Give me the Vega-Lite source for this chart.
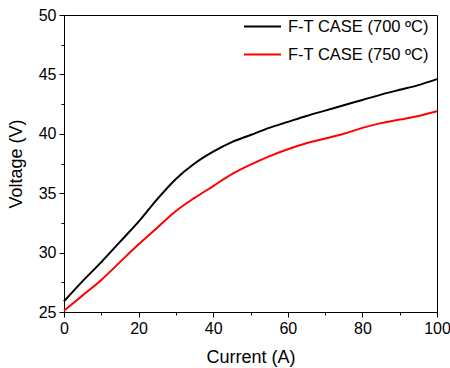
{
  "$schema": "https://vega.github.io/schema/vega-lite/v6.json",
  "autosize": "none",
  "width": 373,
  "height": 297,
  "padding": {"left": 64, "top": 15, "right": 13, "bottom": 56},
  "background": "white",
  "config": {
    "view": {"stroke": "#000000", "strokeWidth": 1},
    "font": "Liberation Sans"
  },
  "data": {
    "values": [
      {"I": 0, "V": 25.9, "s": "F-T CASE (700 ºC)"},
      {"I": 5, "V": 27.6, "s": "F-T CASE (700 ºC)"},
      {"I": 10, "V": 29.2, "s": "F-T CASE (700 ºC)"},
      {"I": 15, "V": 30.9, "s": "F-T CASE (700 ºC)"},
      {"I": 20, "V": 32.6, "s": "F-T CASE (700 ºC)"},
      {"I": 25, "V": 34.5, "s": "F-T CASE (700 ºC)"},
      {"I": 30, "V": 36.2, "s": "F-T CASE (700 ºC)"},
      {"I": 35, "V": 37.5, "s": "F-T CASE (700 ºC)"},
      {"I": 40, "V": 38.5, "s": "F-T CASE (700 ºC)"},
      {"I": 45, "V": 39.3, "s": "F-T CASE (700 ºC)"},
      {"I": 50, "V": 39.9, "s": "F-T CASE (700 ºC)"},
      {"I": 55, "V": 40.5, "s": "F-T CASE (700 ºC)"},
      {"I": 60, "V": 41.0, "s": "F-T CASE (700 ºC)"},
      {"I": 65, "V": 41.5, "s": "F-T CASE (700 ºC)"},
      {"I": 70, "V": 41.95, "s": "F-T CASE (700 ºC)"},
      {"I": 75, "V": 42.4, "s": "F-T CASE (700 ºC)"},
      {"I": 80, "V": 42.85, "s": "F-T CASE (700 ºC)"},
      {"I": 85, "V": 43.3, "s": "F-T CASE (700 ºC)"},
      {"I": 90, "V": 43.7, "s": "F-T CASE (700 ºC)"},
      {"I": 95, "V": 44.1, "s": "F-T CASE (700 ºC)"},
      {"I": 100, "V": 44.6, "s": "F-T CASE (700 ºC)"},
      {"I": 0, "V": 25.1, "s": "F-T CASE (750 ºC)"},
      {"I": 5, "V": 26.4, "s": "F-T CASE (750 ºC)"},
      {"I": 10, "V": 27.7, "s": "F-T CASE (750 ºC)"},
      {"I": 15, "V": 29.2, "s": "F-T CASE (750 ºC)"},
      {"I": 20, "V": 30.7, "s": "F-T CASE (750 ºC)"},
      {"I": 25, "V": 32.1, "s": "F-T CASE (750 ºC)"},
      {"I": 30, "V": 33.5, "s": "F-T CASE (750 ºC)"},
      {"I": 35, "V": 34.6, "s": "F-T CASE (750 ºC)"},
      {"I": 40, "V": 35.6, "s": "F-T CASE (750 ºC)"},
      {"I": 45, "V": 36.6, "s": "F-T CASE (750 ºC)"},
      {"I": 50, "V": 37.4, "s": "F-T CASE (750 ºC)"},
      {"I": 55, "V": 38.1, "s": "F-T CASE (750 ºC)"},
      {"I": 60, "V": 38.7, "s": "F-T CASE (750 ºC)"},
      {"I": 65, "V": 39.2, "s": "F-T CASE (750 ºC)"},
      {"I": 70, "V": 39.6, "s": "F-T CASE (750 ºC)"},
      {"I": 75, "V": 40.0, "s": "F-T CASE (750 ºC)"},
      {"I": 80, "V": 40.5, "s": "F-T CASE (750 ºC)"},
      {"I": 85, "V": 40.9, "s": "F-T CASE (750 ºC)"},
      {"I": 90, "V": 41.2, "s": "F-T CASE (750 ºC)"},
      {"I": 95, "V": 41.5, "s": "F-T CASE (750 ºC)"},
      {"I": 100, "V": 41.9, "s": "F-T CASE (750 ºC)"}
    ]
  },
  "mark": {"type": "line", "strokeWidth": 2, "interpolate": "monotone"},
  "encoding": {
    "x": {
      "field": "I", "type": "quantitative",
      "scale": {"domain": [0, 100], "nice": false, "zero": false},
      "axis": {
        "title": "Current (A)",
        "values": [0, 10, 20, 30, 40, 50, 60, 70, 80, 90, 100],
        "labelExpr": "datum.value % 20 === 0 ? datum.label : ''",
        "grid": false,
        "domainColor": "#000000",
        "tickColor": "#000000",
        "tickSize": {"condition": {"test": "datum.value % 20 === 0", "value": 5}, "value": 3},
        "labelFontSize": 16,
        "labelColor": "#000000",
        "labelPadding": 3,
        "labelFlush": false,
        "titleFontSize": 18,
        "titleFontWeight": "normal",
        "titleColor": "#000000",
        "titlePadding": 12
      }
    },
    "y": {
      "field": "V", "type": "quantitative",
      "scale": {"domain": [25, 50], "nice": false, "zero": false},
      "axis": {
        "title": "Voltage (V)",
        "values": [25, 27.5, 30, 32.5, 35, 37.5, 40, 42.5, 45, 47.5, 50],
        "labelExpr": "datum.value % 5 === 0 ? datum.label : ''",
        "grid": false,
        "domainColor": "#000000",
        "tickColor": "#000000",
        "tickSize": {"condition": {"test": "datum.value % 5 === 0", "value": 5}, "value": 3},
        "labelFontSize": 16,
        "labelColor": "#000000",
        "labelPadding": 3,
        "labelFlush": false,
        "titleFontSize": 18,
        "titleFontWeight": "normal",
        "titleColor": "#000000",
        "titlePadding": 13
      }
    },
    "color": {
      "field": "s", "type": "nominal",
      "scale": {"domain": ["F-T CASE (700 ºC)", "F-T CASE (750 ºC)"], "range": ["#000000", "#ff0000"]},
      "legend": {
        "title": null,
        "orient": "none",
        "legendX": 179,
        "legendY": -8,
        "symbolType": "stroke",
        "symbolSize": 1369,
        "symbolStrokeWidth": 2,
        "labelFontSize": 16.5,
        "labelColor": "#000000",
        "labelOffset": 6,
        "rowPadding": -15,
        "labelLimit": 300
      }
    }
  }
}
